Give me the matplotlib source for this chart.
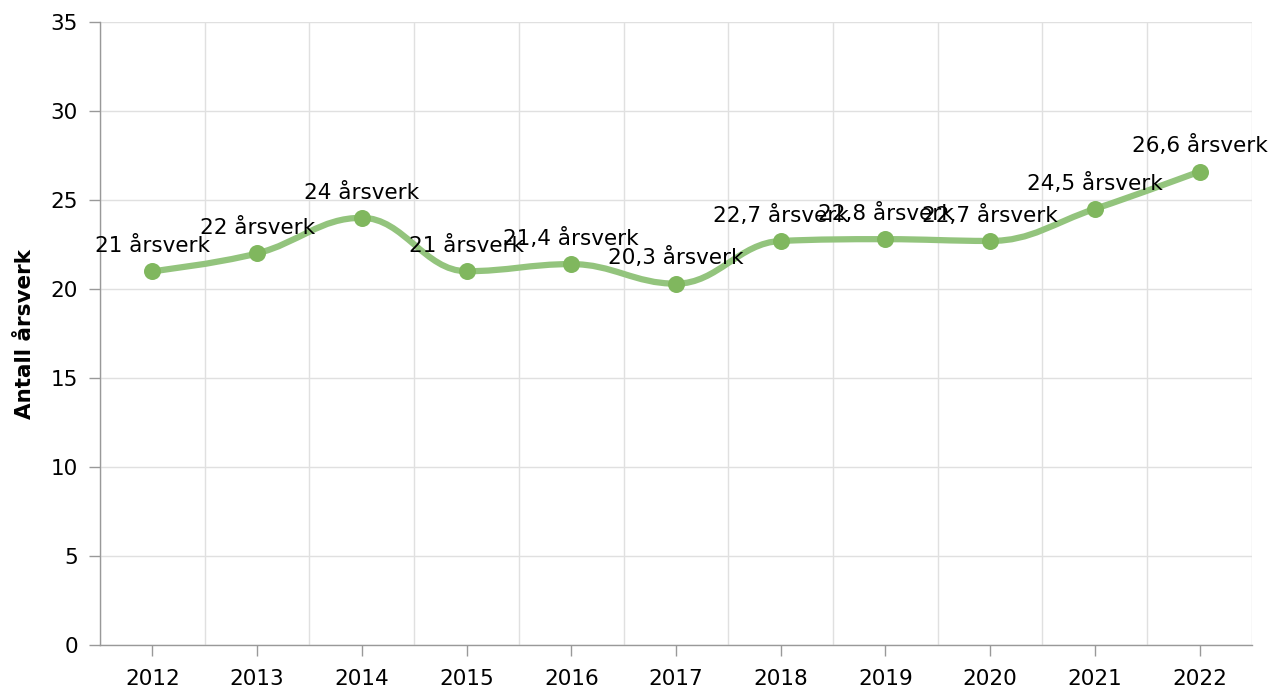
import numpy as np
import matplotlib
matplotlib.use("Agg")
import matplotlib.pyplot as plt
from matplotlib.path import Path
from matplotlib.patches import PathPatch

# Data
years = ["2012", "2013", "2014", "2015", "2016", "2017",
         "2018", "2019", "2020", "2021", "2022"]
values = [21, 22, 24, 21, 21.4, 20.3, 22.7, 22.8, 22.7, 24.5, 26.6]
labels = ["21 årsverk", "22 årsverk", "24 årsverk", "21 årsverk",
          "21,4 årsverk", "20,3 årsverk", "22,7 årsverk", "22,8 årsverk",
          "22,7 årsverk", "24,5 årsverk", "26,6 årsverk"]

LINE_COLOR = "#93c47d"
MARKER_COLOR = "#80b75e"
GRID_COLOR = "#e0e0e0"
AXIS_COLOR = "#999999"

plt.rcParams["font.family"] = "DejaVu Sans"


def spline_path(x, y, smoothing=1.5):
    """Smooth curve through the points (same idea as a chart spline)."""
    n = len(x)
    denom = smoothing + 1
    left = [None] * n
    right = [None] * n
    for i in range(1, n - 1):
        lx = (smoothing * x[i] + x[i - 1]) / denom
        ly = (smoothing * y[i] + y[i - 1]) / denom
        rx = (smoothing * x[i] + x[i + 1]) / denom
        ry = (smoothing * y[i] + y[i + 1]) / denom
        corr = (ry - ly) * (rx - x[i]) / (rx - lx) + y[i] - ry
        ly += corr
        ry += corr
        if ly > y[i - 1] and ly > y[i]:
            ly = max(y[i - 1], y[i])
            ry = 2 * y[i] - ly
        elif ly < y[i - 1] and ly < y[i]:
            ly = min(y[i - 1], y[i])
            ry = 2 * y[i] - ly
        if ry > y[i + 1] and ry > y[i]:
            ry = max(y[i + 1], y[i])
            ly = 2 * y[i] - ry
        elif ry < y[i + 1] and ry < y[i]:
            ry = min(y[i + 1], y[i])
            ly = 2 * y[i] - ry
        left[i] = (lx, ly)
        right[i] = (rx, ry)
    verts = [(x[0], y[0])]
    codes = [Path.MOVETO]
    for i in range(1, n):
        c1 = right[i - 1] if right[i - 1] else (x[i - 1], y[i - 1])
        c2 = left[i] if left[i] else (x[i], y[i])
        verts += [c1, c2, (x[i], y[i])]
        codes += [Path.CURVE4] * 3
    return Path(verts, codes)


fig = plt.figure(figsize=(12.71, 6.90), dpi=100)
ax = fig.add_axes([0.0787, 0.0652, 0.9063, 0.9029])

xs = np.arange(len(years))
ax.add_patch(PathPatch(spline_path(xs, values), facecolor="none",
                       edgecolor=LINE_COLOR, lw=4.5, zorder=3,
                       capstyle="round", joinstyle="round"))
ax.scatter(xs, values, s=150, color=MARKER_COLOR, zorder=4, linewidths=0)

for xi, v, lab in zip(xs, values, labels):
    ax.annotate(lab, (xi, v), xytext=(0, 11), textcoords="offset points",
                ha="center", va="bottom", fontsize=15.5, color="#000000",
                zorder=5)

ax.set_xlim(-0.5, len(years) - 0.5)
ax.set_ylim(0, 35)
ax.set_yticks(np.arange(0, 36, 5))
ax.set_xticks(xs)
ax.set_xticklabels(years)
ax.set_xticks(np.arange(-0.5, len(years), 1), minor=True)

ax.grid(True, which="minor", axis="x", color=GRID_COLOR, lw=1)
ax.grid(True, which="major", axis="y", color=GRID_COLOR, lw=1)
ax.set_axisbelow(True)

for side in ["top", "right"]:
    ax.spines[side].set_visible(False)
for side in ["left", "bottom"]:
    ax.spines[side].set_color(AXIS_COLOR)
    ax.spines[side].set_linewidth(1)

ax.tick_params(axis="both", which="major", labelsize=15.5, color=AXIS_COLOR,
               length=8, width=1)
ax.tick_params(axis="x", which="minor", length=0)
ax.tick_params(axis="x", pad=9)
ax.tick_params(axis="y", pad=8)

ax.set_ylabel("Antall årsverk", fontsize=15.5, fontweight="bold", labelpad=11)

fig.savefig("out.png", dpi=100)
